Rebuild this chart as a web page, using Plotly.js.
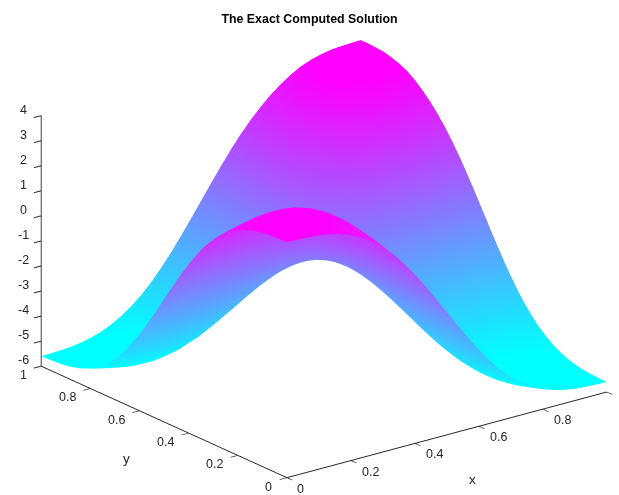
<!DOCTYPE html>
<html><head><meta charset="utf-8">
<script src="https://cdn.plot.ly/plotly-3.0.1.min.js"></script>
<style>html,body{margin:0;padding:0;background:#fff}#c{width:619px;height:495px}</style>
</head><body><div id="c"></div>
<script>
const xs=[0,0.03125,0.0625,0.09375,0.125,0.15625,0.1875,0.21875,0.25,0.28125,0.3125,0.34375,0.375,0.40625,0.4375,0.46875,0.5,0.53125,0.5625,0.59375,0.625,0.65625,0.6875,0.71875,0.75,0.78125,0.8125,0.84375,0.875,0.90625,0.9375,0.96875,1];
const ys=[0,0.03125,0.0625,0.09375,0.125,0.15625,0.1875,0.21875,0.25,0.28125,0.3125,0.34375,0.375,0.40625,0.4375,0.46875,0.5,0.53125,0.5625,0.59375,0.625,0.65625,0.6875,0.71875,0.75,0.78125,0.8125,0.84375,0.875,0.90625,0.9375,0.96875,1];
const zRows=[
[3.40,3.39,3.37,3.34,3.28,3.19,3.06,2.88,2.65,2.37,2.02,1.62,1.15,0.64,0.08,-0.50,-1.10,-1.70,-2.28,-2.84,-3.35,-3.82,-4.22,-4.57,-4.85,-5.08,-5.26,-5.39,-5.48,-5.54,-5.57,-5.59,-5.60],
[3.39,3.41,3.42,3.40,3.36,3.29,3.17,3.00,2.78,2.49,2.14,1.72,1.24,0.71,0.13,-0.48,-1.10,-1.72,-2.33,-2.91,-3.44,-3.92,-4.34,-4.69,-4.98,-5.20,-5.37,-5.49,-5.56,-5.60,-5.62,-5.61,-5.59],
[3.37,3.42,3.44,3.45,3.43,3.37,3.26,3.10,2.88,2.59,2.23,1.81,1.31,0.77,0.17,-0.46,-1.10,-1.74,-2.37,-2.97,-3.51,-4.01,-4.43,-4.79,-5.08,-5.30,-5.46,-5.57,-5.63,-5.65,-5.64,-5.62,-5.57],
[3.34,3.40,3.45,3.48,3.47,3.43,3.33,3.18,2.96,2.67,2.31,1.88,1.38,0.81,0.20,-0.44,-1.10,-1.76,-2.40,-3.01,-3.58,-4.08,-4.51,-4.87,-5.16,-5.38,-5.53,-5.63,-5.67,-5.68,-5.65,-5.60,-5.54],
[3.28,3.36,3.43,3.47,3.48,3.45,3.37,3.23,3.01,2.73,2.36,1.92,1.42,0.85,0.23,-0.43,-1.10,-1.77,-2.43,-3.05,-3.62,-4.12,-4.56,-4.93,-5.21,-5.43,-5.57,-5.65,-5.68,-5.67,-5.63,-5.56,-5.48],
[3.19,3.29,3.37,3.43,3.45,3.43,3.36,3.22,3.02,2.73,2.37,1.94,1.43,0.85,0.23,-0.42,-1.10,-1.78,-2.43,-3.05,-3.63,-4.14,-4.57,-4.93,-5.22,-5.42,-5.56,-5.63,-5.65,-5.63,-5.57,-5.49,-5.39],
[3.06,3.17,3.26,3.33,3.37,3.36,3.30,3.17,2.97,2.69,2.34,1.91,1.41,0.84,0.22,-0.43,-1.10,-1.77,-2.42,-3.04,-3.61,-4.11,-4.54,-4.89,-5.17,-5.37,-5.50,-5.56,-5.57,-5.53,-5.46,-5.37,-5.26],
[2.88,3.00,3.10,3.18,3.23,3.22,3.17,3.05,2.86,2.60,2.25,1.83,1.34,0.79,0.19,-0.45,-1.10,-1.75,-2.39,-2.99,-3.54,-4.03,-4.45,-4.80,-5.06,-5.25,-5.37,-5.42,-5.43,-5.38,-5.30,-5.20,-5.08],
[2.65,2.78,2.88,2.96,3.01,3.02,2.97,2.86,2.68,2.43,2.11,1.71,1.24,0.71,0.14,-0.47,-1.10,-1.73,-2.34,-2.91,-3.44,-3.91,-4.31,-4.63,-4.88,-5.06,-5.17,-5.22,-5.21,-5.16,-5.08,-4.98,-4.85],
[2.37,2.49,2.59,2.67,2.73,2.73,2.69,2.60,2.43,2.20,1.90,1.52,1.09,0.59,0.06,-0.51,-1.10,-1.69,-2.26,-2.79,-3.29,-3.72,-4.10,-4.40,-4.63,-4.80,-4.89,-4.93,-4.93,-4.87,-4.79,-4.69,-4.57],
[2.02,2.14,2.23,2.31,2.36,2.37,2.34,2.25,2.11,1.90,1.62,1.28,0.89,0.44,-0.05,-0.57,-1.10,-1.63,-2.15,-2.64,-3.09,-3.48,-3.82,-4.10,-4.31,-4.45,-4.54,-4.57,-4.56,-4.51,-4.43,-4.34,-4.22],
[1.62,1.72,1.81,1.88,1.92,1.94,1.91,1.83,1.71,1.52,1.28,0.99,0.64,0.25,-0.18,-0.63,-1.10,-1.57,-2.02,-2.45,-2.84,-3.19,-3.48,-3.72,-3.91,-4.03,-4.11,-4.14,-4.12,-4.08,-4.01,-3.92,-3.82],
[1.15,1.24,1.31,1.38,1.42,1.43,1.41,1.34,1.24,1.09,0.89,0.64,0.35,0.02,-0.33,-0.71,-1.10,-1.49,-1.87,-2.22,-2.55,-2.84,-3.09,-3.29,-3.44,-3.54,-3.61,-3.63,-3.62,-3.58,-3.51,-3.44,-3.35],
[0.64,0.71,0.77,0.81,0.85,0.85,0.84,0.79,0.71,0.59,0.44,0.25,0.02,-0.23,-0.51,-0.80,-1.10,-1.40,-1.69,-1.97,-2.22,-2.45,-2.64,-2.79,-2.91,-2.99,-3.04,-3.05,-3.05,-3.01,-2.97,-2.91,-2.84],
[0.08,0.13,0.17,0.20,0.23,0.23,0.22,0.19,0.14,0.06,-0.05,-0.18,-0.33,-0.51,-0.69,-0.89,-1.10,-1.31,-1.51,-1.69,-1.87,-2.02,-2.15,-2.26,-2.34,-2.39,-2.42,-2.43,-2.43,-2.40,-2.37,-2.33,-2.28],
[-0.50,-0.48,-0.46,-0.44,-0.43,-0.42,-0.43,-0.45,-0.47,-0.51,-0.57,-0.63,-0.71,-0.80,-0.89,-1.00,-1.10,-1.20,-1.31,-1.40,-1.49,-1.57,-1.63,-1.69,-1.73,-1.75,-1.77,-1.78,-1.77,-1.76,-1.74,-1.72,-1.70],
[-1.10,-1.10,-1.10,-1.10,-1.10,-1.10,-1.10,-1.10,-1.10,-1.10,-1.10,-1.10,-1.10,-1.10,-1.10,-1.10,-1.10,-1.10,-1.10,-1.10,-1.10,-1.10,-1.10,-1.10,-1.10,-1.10,-1.10,-1.10,-1.10,-1.10,-1.10,-1.10,-1.10],
[-1.70,-1.72,-1.74,-1.76,-1.77,-1.78,-1.77,-1.75,-1.73,-1.69,-1.63,-1.57,-1.49,-1.40,-1.31,-1.20,-1.10,-1.00,-0.89,-0.80,-0.71,-0.63,-0.57,-0.51,-0.47,-0.45,-0.43,-0.42,-0.43,-0.44,-0.46,-0.48,-0.50],
[-2.28,-2.33,-2.37,-2.40,-2.43,-2.43,-2.42,-2.39,-2.34,-2.26,-2.15,-2.02,-1.87,-1.69,-1.51,-1.31,-1.10,-0.89,-0.69,-0.51,-0.33,-0.18,-0.05,0.06,0.14,0.19,0.22,0.23,0.23,0.20,0.17,0.13,0.08],
[-2.84,-2.91,-2.97,-3.01,-3.05,-3.05,-3.04,-2.99,-2.91,-2.79,-2.64,-2.45,-2.22,-1.97,-1.69,-1.40,-1.10,-0.80,-0.51,-0.23,0.02,0.25,0.44,0.59,0.71,0.79,0.84,0.85,0.85,0.81,0.77,0.71,0.64],
[-3.35,-3.44,-3.51,-3.58,-3.62,-3.63,-3.61,-3.54,-3.44,-3.29,-3.09,-2.84,-2.55,-2.22,-1.87,-1.49,-1.10,-0.71,-0.33,0.02,0.35,0.64,0.89,1.09,1.24,1.34,1.41,1.43,1.42,1.38,1.31,1.24,1.15],
[-3.82,-3.92,-4.01,-4.08,-4.12,-4.14,-4.11,-4.03,-3.91,-3.72,-3.48,-3.19,-2.84,-2.45,-2.02,-1.57,-1.10,-0.63,-0.18,0.25,0.64,0.99,1.28,1.52,1.71,1.83,1.91,1.94,1.92,1.88,1.81,1.72,1.62],
[-4.22,-4.34,-4.43,-4.51,-4.56,-4.57,-4.54,-4.45,-4.31,-4.10,-3.82,-3.48,-3.09,-2.64,-2.15,-1.63,-1.10,-0.57,-0.05,0.44,0.89,1.28,1.62,1.90,2.11,2.26,2.35,2.38,2.37,2.32,2.24,2.15,2.03],
[-4.57,-4.69,-4.79,-4.87,-4.93,-4.93,-4.89,-4.80,-4.63,-4.40,-4.10,-3.72,-3.29,-2.79,-2.26,-1.69,-1.10,-0.51,0.06,0.59,1.09,1.52,1.90,2.20,2.44,2.62,2.71,2.75,2.76,2.70,2.62,2.52,2.40],
[-4.85,-4.98,-5.08,-5.16,-5.21,-5.22,-5.17,-5.06,-4.88,-4.63,-4.31,-3.91,-3.44,-2.91,-2.34,-1.73,-1.10,-0.47,0.14,0.71,1.24,1.71,2.11,2.44,2.70,2.89,3.01,3.07,3.06,3.02,2.94,2.84,2.71],
[-5.08,-5.20,-5.30,-5.38,-5.43,-5.42,-5.37,-5.25,-5.06,-4.80,-4.45,-4.03,-3.54,-2.99,-2.39,-1.75,-1.10,-0.45,0.19,0.79,1.34,1.83,2.26,2.62,2.89,3.10,3.24,3.30,3.32,3.28,3.20,3.10,2.98],
[-5.26,-5.37,-5.46,-5.53,-5.57,-5.56,-5.50,-5.37,-5.17,-4.89,-4.54,-4.11,-3.61,-3.04,-2.42,-1.77,-1.10,-0.43,0.22,0.84,1.41,1.91,2.35,2.71,3.01,3.24,3.40,3.47,3.50,3.47,3.40,3.31,3.20],
[-5.39,-5.49,-5.57,-5.63,-5.65,-5.63,-5.56,-5.42,-5.22,-4.93,-4.57,-4.14,-3.63,-3.05,-2.43,-1.78,-1.10,-0.42,0.23,0.85,1.43,1.94,2.38,2.75,3.07,3.30,3.47,3.56,3.59,3.59,3.53,3.45,3.35],
[-5.48,-5.56,-5.63,-5.67,-5.68,-5.65,-5.57,-5.43,-5.21,-4.93,-4.56,-4.12,-3.62,-3.05,-2.43,-1.77,-1.10,-0.43,0.23,0.85,1.42,1.92,2.37,2.76,3.06,3.32,3.50,3.59,3.64,3.65,3.61,3.54,3.46],
[-5.54,-5.60,-5.65,-5.68,-5.67,-5.63,-5.53,-5.38,-5.16,-4.87,-4.51,-4.08,-3.58,-3.01,-2.40,-1.76,-1.10,-0.44,0.20,0.81,1.38,1.88,2.32,2.70,3.02,3.28,3.47,3.59,3.65,3.68,3.65,3.60,3.54],
[-5.57,-5.62,-5.64,-5.65,-5.63,-5.57,-5.46,-5.30,-5.08,-4.79,-4.43,-4.01,-3.51,-2.97,-2.37,-1.74,-1.10,-0.46,0.17,0.77,1.31,1.81,2.24,2.62,2.94,3.20,3.40,3.53,3.61,3.65,3.64,3.62,3.57],
[-5.59,-5.61,-5.62,-5.60,-5.56,-5.49,-5.37,-5.20,-4.98,-4.69,-4.34,-3.92,-3.44,-2.91,-2.33,-1.72,-1.10,-0.48,0.13,0.71,1.24,1.72,2.15,2.52,2.84,3.10,3.31,3.45,3.54,3.60,3.62,3.61,3.59],
[-5.60,-5.59,-5.57,-5.54,-5.48,-5.39,-5.26,-5.08,-4.85,-4.57,-4.22,-3.82,-3.35,-2.84,-2.28,-1.70,-1.10,-0.50,0.08,0.64,1.15,1.62,2.03,2.40,2.71,2.98,3.20,3.35,3.46,3.54,3.57,3.59,3.60]
];
const xTicks=[0,0.2,0.4,0.6,0.8,1];
const xTickText=['0','0.2','0.4','0.6','0.8',''];
const yTicks=[0,0.2,0.4,0.6,0.8,1];
const yTickText=['0','0.2','0.4','0.6','0.8','1'];
const zTicks=[-6,-5,-4,-3,-2,-1,0,1,2,3,4];
const zTickText=['-6','-5','-4','-3','-2','-1','0','1','2','3','4'];
const axisBase={showgrid:false,zeroline:false,showbackground:false,showspikes:false,showline:true,
  linecolor:'#262626',linewidth:2,ticks:'outside',ticklen:9,tickcolor:'#262626',tickwidth:2,
  showticklabels:false,tickmode:'array'};
const lab={family:'Liberation Sans',size:12.5,color:'#262626'};
const anns=[];
xTicks.forEach((v,i)=>{if(xTickText[i])anns.push({x:v,y:0,z:-6,text:xTickText[i],showarrow:false,font:lab,xshift:v===0?14:20,yshift:-11});});
yTicks.forEach((v,i)=>{anns.push({x:0,y:v,z:-6,text:yTickText[i],showarrow:false,font:lab,xshift:(v===0||v===1)?-18:-23,yshift:-9});});
zTicks.forEach((v,i)=>{anns.push({x:0,y:1,z:v,text:zTickText[i],showarrow:false,font:lab,xshift:-18,yshift:6});});
anns.push({x:0.58,y:0,z:-6,text:'x',showarrow:false,font:{family:'Liberation Sans',size:13.5,color:'#262626'},xshift:0,yshift:-52});
anns.push({x:0,y:0.58,z:-6,text:'y',showarrow:false,font:{family:'Liberation Sans',size:13.5,color:'#262626'},xshift:-18,yshift:-46});
Plotly.newPlot('c',[{type:'surface',x:xs,y:ys,z:zRows,showscale:false,cmin:-5.3,cmax:3.4,
  colorscale:[[0,'rgb(0,255,255)'],[1,'rgb(255,0,255)']],
  lighting:{ambient:1,diffuse:0,specular:0,roughness:1,fresnel:0},
  contours:{x:{highlight:false},y:{highlight:false},z:{highlight:false}},hoverinfo:'skip'}],
 {width:619,height:495,margin:{l:0,r:0,t:0,b:0},paper_bgcolor:'#fff',
  title:{text:'<b>The Exact Computed Solution</b>',font:{family:'Liberation Sans',size:12.4,color:'#000'},x:0.5,xanchor:'center',y:0.962,yanchor:'middle'},
  scene:{domain:{x:[0.047,1],y:[0,0.982]},
   aspectmode:'manual',aspectratio:{x:1.66,y:1.66,z:1.1},
   camera:{eye:{x:-1.14,y:-1.484,z:0.704},up:{x:0,y:0,z:1},center:{x:0,y:0,z:0.008},projection:{type:'orthographic'}},
   annotations:anns,
   xaxis:Object.assign({},axisBase,{range:[0,1],tickvals:xTicks,ticktext:xTickText,title:{text:''}}),
   yaxis:Object.assign({},axisBase,{range:[0,1],tickvals:yTicks,ticktext:yTickText,title:{text:''}}),
   zaxis:Object.assign({},axisBase,{range:[-6,4],tickvals:zTicks,ticktext:zTickText,title:{text:''}})
  }},{displayModeBar:false});
</script></body></html>
